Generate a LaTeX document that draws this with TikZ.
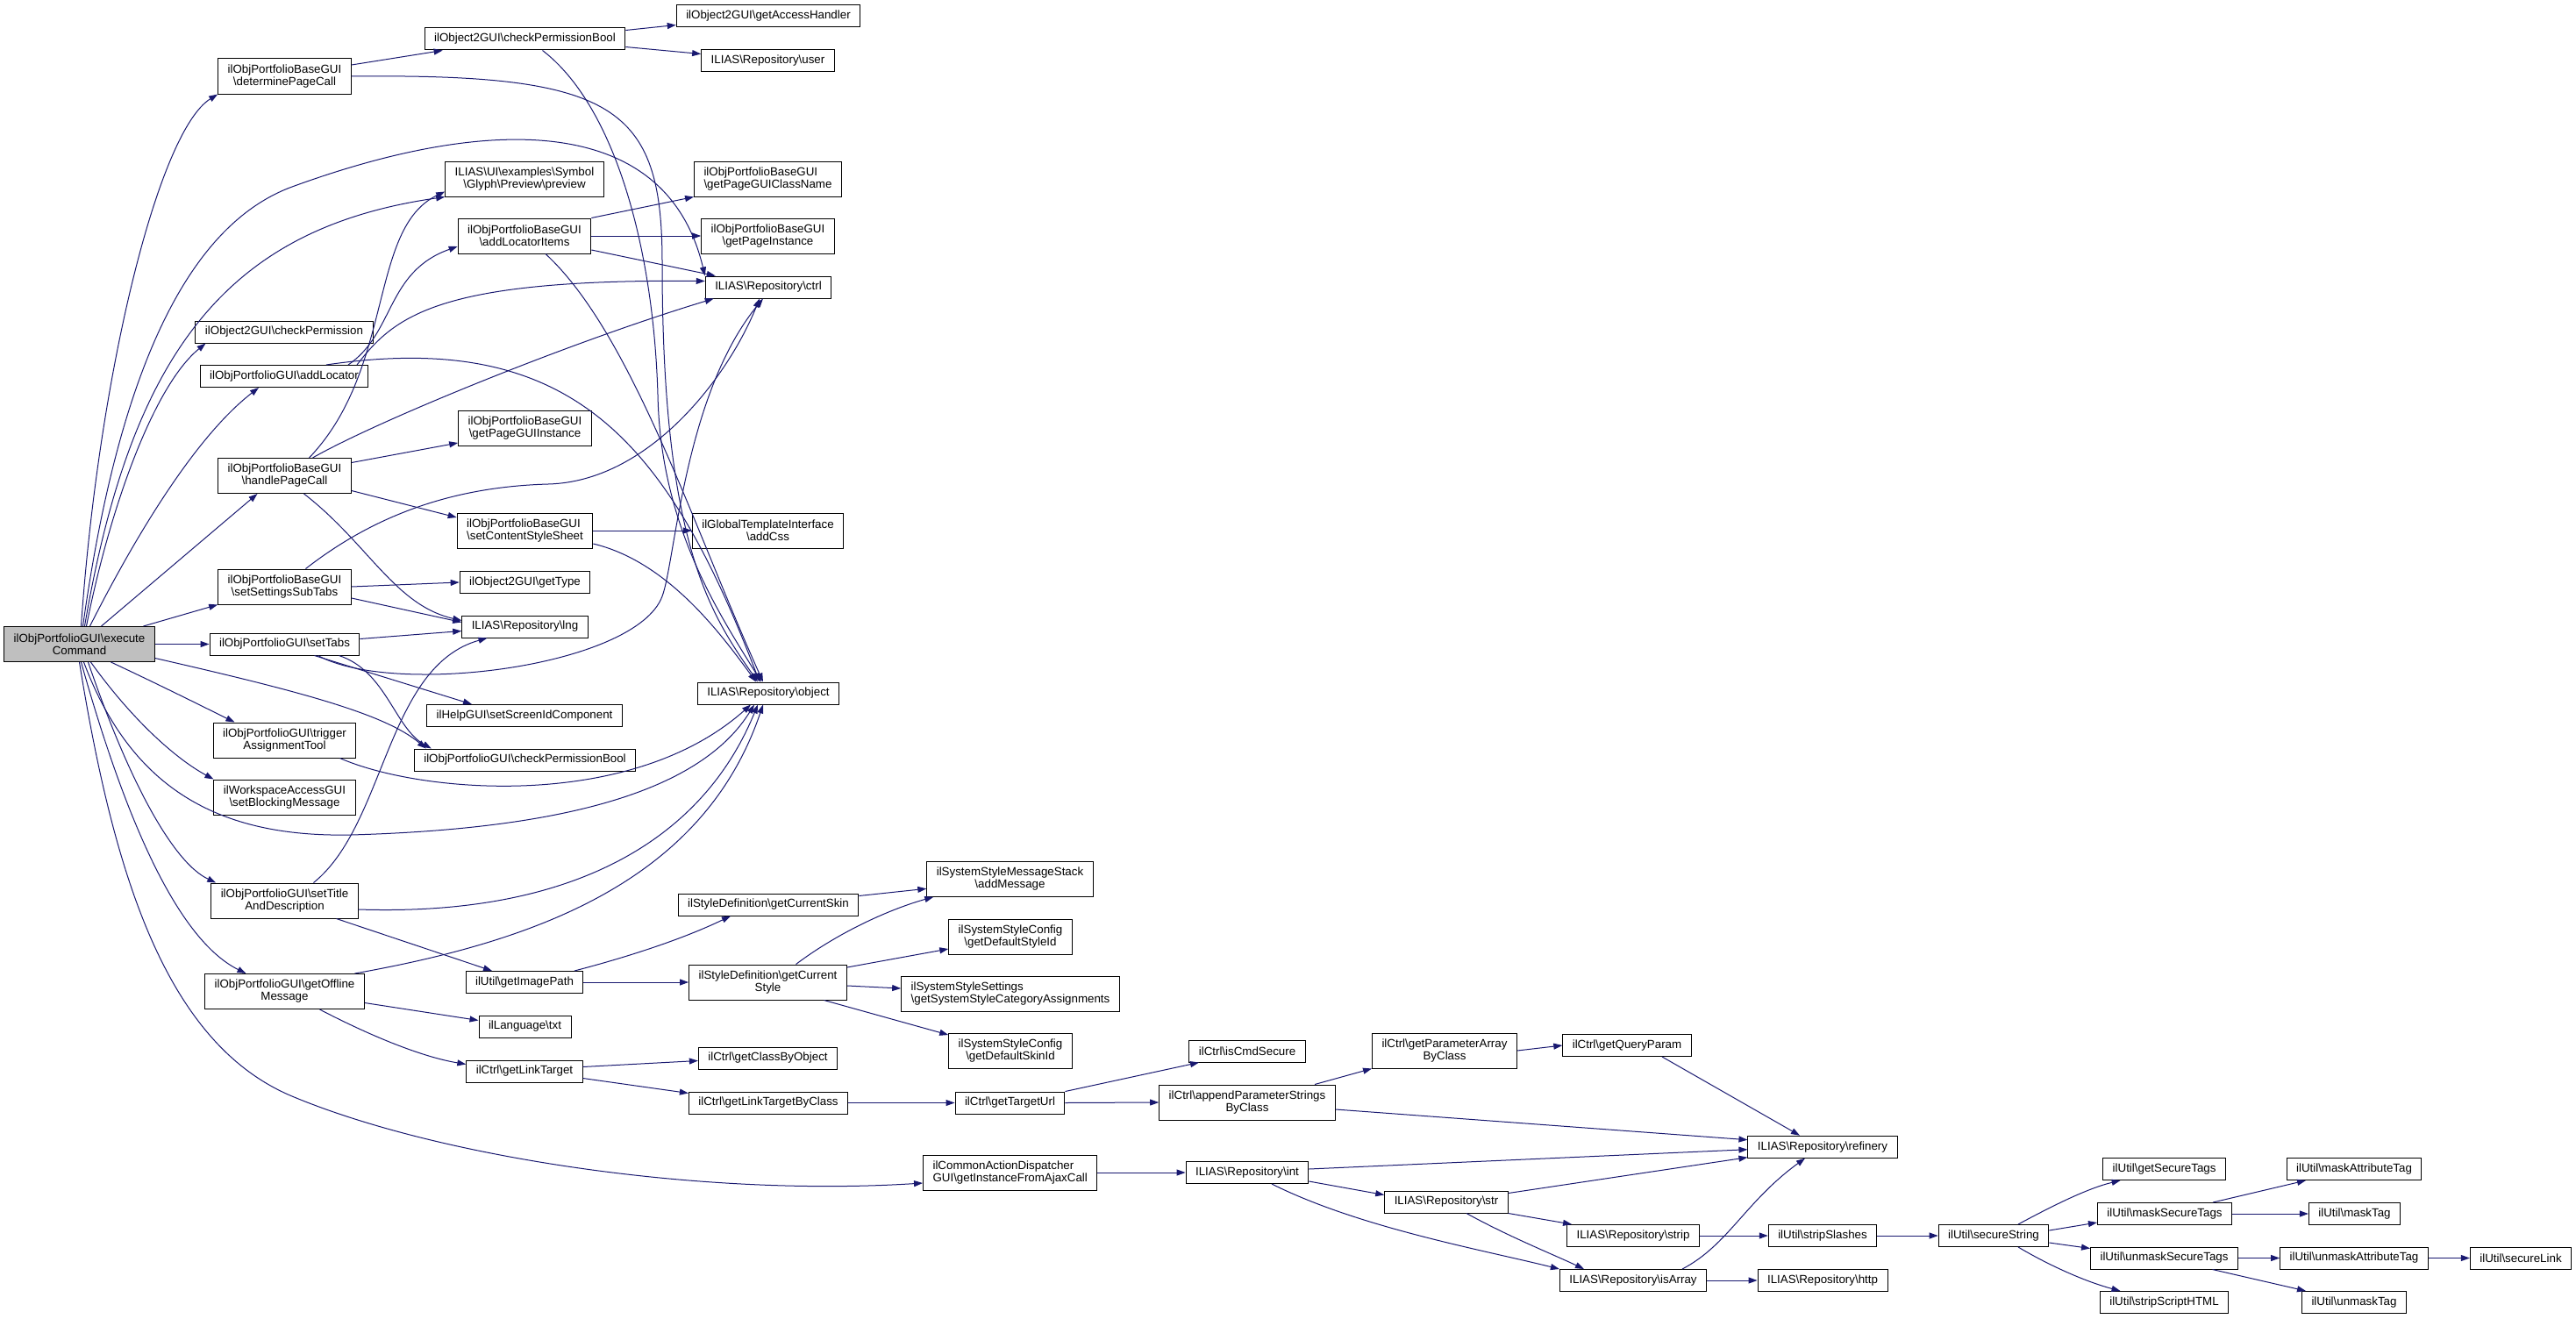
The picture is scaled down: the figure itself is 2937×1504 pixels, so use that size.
\documentclass[tikz,border=0pt]{standalone}
\usepackage{fontspec}
\setmainfont{Liberation Sans}
\usetikzlibrary{arrows.meta}
\tikzset{>={Triangle[length=10pt,width=7pt]}}
\definecolor{edgeblue}{RGB}{25,25,112}
\definecolor{rootgray}{RGB}{191,191,191}
\tikzstyle{fn}=[draw=black,line width=1pt,fill=white,inner xsep=11pt,inner ysep=0pt,minimum height=25pt,font=\fontsize{13.33}{14}\selectfont]
\tikzstyle{fntwo}=[fn,minimum height=40pt,align=center]
\tikzstyle{fnleft}=[fn,minimum height=40pt,align=left]
\tikzstyle{call}=[draw=edgeblue,line width=1pt,->]
\newcommand{\bsl}{\textbackslash{}}

\begin{document}
\begin{tikzpicture}[x=1pt,y=-1pt]
  \useasboundingbox (0,0) rectangle (2937,1504);

  % caller
  \node[fntwo,fill=rootgray] (root) at (90.5,734.5) {ilObjPortfolioGUI\bsl execute\\Command};

  % first level
  \node[fntwo] (detPage) at (324.5,87) {ilObjPortfolioBaseGUI\\\bsl determinePageCall};
  \node[fn] (chkPerm) at (324,378.5) {ilObject2GUI\bsl checkPermission};
  \node[fn] (addLoc) at (324,429) {ilObjPortfolioGUI\bsl addLocator};
  \node[fntwo] (handlePage) at (324.5,542.5) {ilObjPortfolioBaseGUI\\\bsl handlePageCall};
  \node[fntwo] (setSubTabs) at (324.5,669) {ilObjPortfolioBaseGUI\\\bsl setSettingsSubTabs};
  \node[fn] (setTabs) at (324.5,734.5) {ilObjPortfolioGUI\bsl setTabs};
  \node[fntwo] (trigger) at (324.5,844) {ilObjPortfolioGUI\bsl trigger\\AssignmentTool};
  \node[fntwo] (blocking) at (324.5,909) {ilWorkspaceAccessGUI\\\bsl setBlockingMessage};
  \node[fntwo] (setTitle) at (324.5,1027) {ilObjPortfolioGUI\bsl setTitle\\AndDescription};
  \node[fntwo] (offline) at (324.5,1130.5) {ilObjPortfolioGUI\bsl getOffline\\Message};

  % second level
  \node[fn] (o2PermBool) at (598.5,44.5) {ilObject2GUI\bsl checkPermissionBool};
  \node[fntwo] (preview) at (598,204) {ILIAS\bsl UI\bsl examples\bsl Symbol\\\bsl Glyph\bsl Preview\bsl preview};
  \node[fntwo] (locItems) at (598,269) {ilObjPortfolioBaseGUI\\\bsl addLocatorItems};
  \node[fntwo] (pageGUIInst) at (598.5,488) {ilObjPortfolioBaseGUI\\\bsl getPageGUIInstance};
  \node[fnleft] (styleSheet) at (598.5,605) {ilObjPortfolioBaseGUI\\\bsl setContentStyleSheet};
  \node[fn] (getType) at (598.5,664) {ilObject2GUI\bsl getType};
  \node[fn] (lng) at (598.5,714.5) {ILIAS\bsl Repository\bsl lng};
  \node[fn] (screenId) at (598,816) {ilHelpGUI\bsl setScreenIdComponent};
  \node[fn] (pfPermBool) at (598.5,866.5) {ilObjPortfolioGUI\bsl checkPermissionBool};
  \node[fn] (imagePath) at (598,1120) {ilUtil\bsl getImagePath};
  \node[fn] (langTxt) at (598.5,1170.5) {ilLanguage\bsl txt};
  \node[fn] (linkTarget) at (598,1221.5) {ilCtrl\bsl getLinkTarget};

  % third level
  \node[fn] (accessHandler) at (876,18.5) {ilObject2GUI\bsl getAccessHandler};
  \node[fn] (user) at (875.5,69.5) {ILIAS\bsl Repository\bsl user};
  \node[fnleft] (className) at (875.5,204) {ilObjPortfolioBaseGUI\\\bsl getPageGUIClassName};
  \node[fntwo] (pageInst) at (875.5,269) {ilObjPortfolioBaseGUI\\\bsl getPageInstance};
  \node[fn] (ctrl) at (876,327.5) {ILIAS\bsl Repository\bsl ctrl};
  \node[fntwo] (addCss) at (875.5,605) {ilGlobalTemplateInterface\\\bsl addCss};
  \node[fn] (object) at (876,790.5) {ILIAS\bsl Repository\bsl object};
  \node[fn] (curSkin) at (876,1031.5) {ilStyleDefinition\bsl getCurrentSkin};
  \node[fntwo] (curStyle) at (875.5,1120) {ilStyleDefinition\bsl getCurrent\\Style};
  \node[fn] (classByObj) at (875.5,1206.5) {ilCtrl\bsl getClassByObject};
  \node[fn] (linkByClass) at (876,1257.5) {ilCtrl\bsl getLinkTargetByClass};

  % further levels
  \node[fntwo] (addMessage) at (1151.5,1002.3) {ilSystemStyleMessageStack\\\bsl addMessage};
  \node[fntwo] (defStyleId) at (1152,1068) {ilSystemStyleConfig\\\bsl getDefaultStyleId};
  \node[fnleft] (catAssign) at (1152,1133) {ilSystemStyleSettings\\\bsl getSystemStyleCategoryAssignments};
  \node[fntwo] (defSkinId) at (1152,1198.5) {ilSystemStyleConfig\\\bsl getDefaultSkinId};
  \node[fn] (targetUrl) at (1151.5,1257.5) {ilCtrl\bsl getTargetUrl};
  \node[fnleft] (dispatcher) at (1151.7,1337) {ilCommonActionDispatcher\\GUI\bsl getInstanceFromAjaxCall};
  \node[fn] (cmdSecure) at (1422,1198.5) {ilCtrl\bsl isCmdSecure};
  \node[fntwo] (appendParams) at (1422,1257) {ilCtrl\bsl appendParameterStrings\\ByClass};
  \node[fn] (repInt) at (1422,1337) {ILIAS\bsl Repository\bsl int};
  \node[fntwo] (paramArray) at (1647,1198) {ilCtrl\bsl getParameterArray\\ByClass};
  \node[fn] (repStr) at (1649,1370.5) {ILIAS\bsl Repository\bsl str};
  \node[fn] (queryParam) at (1855,1192) {ilCtrl\bsl getQueryParam};
  \node[fn] (repStrip) at (1862,1409) {ILIAS\bsl Repository\bsl strip};
  \node[fn] (isArray) at (1862,1460) {ILIAS\bsl Repository\bsl isArray};
  \node[fn] (refinery) at (2078,1307.7) {ILIAS\bsl Repository\bsl refinery};
  \node[fn] (stripSlashes) at (2078,1409) {ilUtil\bsl stripSlashes};
  \node[fn] (http) at (2078,1460) {ILIAS\bsl Repository\bsl http};
  \node[fn] (secureString) at (2273,1409) {ilUtil\bsl secureString};
  \node[fn] (getSecureTags) at (2467.6,1333) {ilUtil\bsl getSecureTags};
  \node[fn] (maskSecure) at (2468,1384) {ilUtil\bsl maskSecureTags};
  \node[fn] (unmaskSecure) at (2467.5,1434.5) {ilUtil\bsl unmaskSecureTags};
  \node[fn] (stripScript) at (2467.5,1485) {ilUtil\bsl stripScriptHTML};
  \node[fn] (maskAttr) at (2684,1333) {ilUtil\bsl maskAttributeTag};
  \node[fn] (maskTag) at (2684.5,1384) {ilUtil\bsl maskTag};
  \node[fn] (unmaskAttr) at (2684,1434.5) {ilUtil\bsl unmaskAttributeTag};
  \node[fn] (unmaskTag) at (2684,1485) {ilUtil\bsl unmaskTag};
  \node[fn] (secureLink) at (2874,1434.5) {ilUtil\bsl secureLink};

  % calls of executeCommand
  \draw[call] ([xshift=2]root.north) .. controls (112,430) and (180,150) .. (detPage.south west);
  \draw[call] ([xshift=4]root.north) .. controls (130,460) and (200,262) .. (333,213) .. controls (560,130) and (760,130) .. (ctrl.north west);
  \draw[call] ([xshift=6]root.north) .. controls (150,400) and (260,260) .. (preview.south west);
  \draw[call] ([xshift=8]root.north) .. controls (125,580) and (175,440) .. ([xshift=12]chkPerm.south west);
  \draw[call] ([xshift=12]root.north) .. controls (150,620) and (220,500) .. ([xshift=-29]addLoc.south);
  \draw[call] ([xshift=25]root.north) -- ([xshift=-31]handlePage.south);
  \draw[call] ([xshift=73]root.north) -- (setSubTabs.south west);
  \draw[call] (root.east) -- (setTabs.west);
  \draw[call] ([yshift=-16]root.east) .. controls (350,790) and (440,815) .. ([xshift=14]pfPermBool.north west);
  \draw[call] ([xshift=36]root.south) .. controls (180,780) and (230,805) .. ([xshift=-57]trigger.north);
  \draw[call] ([xshift=13]root.south) .. controls (150,820) and (200,865) .. (blocking.north west);
  \draw[call] ([xshift=5]root.south) .. controls (150,900) and (250,955) .. (400,952) .. controls (650,945) and (800,900) .. ([xshift=-16]object.south);
  \draw[call] ([xshift=10]root.south) .. controls (150,900) and (200,985) .. ([xshift=6]setTitle.north west);
  \draw[call] ([xshift=2]root.south) .. controls (150,960) and (210,1075) .. ([xshift=-44]offline.north);
  \draw[call] (root.south) .. controls (130,1000) and (190,1190) .. (333,1250) .. controls (500,1320) and (800,1365) .. ([yshift=-12]dispatcher.west);

  % second level calls
  \draw[call] ([yshift=13]detPage.east) -- ([xshift=21]o2PermBool.south west);
  \draw[call] (detPage.east) .. controls (700,84) and (755,120) .. (755,300) .. controls (755,620) and (810,700) .. ([xshift=-12]object.north);
  \draw[call] ([yshift=10]o2PermBool.east) -- ([yshift=-10]accessHandler.west);
  \draw[call] ([yshift=-9]o2PermBool.east) -- ([yshift=8]user.west);
  \draw[call] ([xshift=20]o2PermBool.south) .. controls (700,120) and (745,280) .. (750,450) .. controls (753,600) and (820,700) .. ([xshift=-8]object.north);
  \draw[call] ([xshift=73]addLoc.north) .. controls (450,380) and (440,310) .. ([yshift=-12]locItems.west);
  \draw[call] ([xshift=83]addLoc.north) .. controls (450,360) and (500,318) .. ([yshift=7]ctrl.west);
  \draw[call] ([xshift=48]addLoc.north) .. controls (650,375) and (760,500) .. ([xshift=-10]object.north);
  \draw[call] (locItems.north east) -- (className.south west);
  \draw[call] (locItems.east) -- (pageInst.west);
  \draw[call] ([yshift=-16]locItems.east) -- ([xshift=12]ctrl.north west);
  \draw[call] ([xshift=24]locItems.south) .. controls (720,380) and (790,600) .. ([xshift=-6]object.north);
  \draw[call] ([xshift=28]handlePage.north) .. controls (450,420) and (420,260) .. ([yshift=6]preview.south west);
  \draw[call] ([xshift=32]handlePage.north) .. controls (430,480) and (650,390) .. ([xshift=10]ctrl.south west);
  \draw[call] ([yshift=15]handlePage.east) -- ([yshift=-17]pageGUIInst.west);
  \draw[call] ([yshift=-17]handlePage.east) -- ([yshift=15]styleSheet.west);
  \draw[call] ([xshift=22]handlePage.south) .. controls (420,620) and (450,690) .. ([yshift=7]lng.west);
  \draw[call] (setSubTabs.east) -- (getType.west);
  \draw[call] ([yshift=-13]setSubTabs.east) -- ([yshift=5]lng.west);
  \draw[call] ([xshift=24]setSubTabs.north) .. controls (430,585) and (520,555) .. (625,552) .. controls (740,549) and (830,430) .. ([xshift=-10]ctrl.south);
  \draw[call] ([yshift=6]setTabs.east) -- ([yshift=-5]lng.west);
  \draw[call] ([xshift=34]setTabs.south) -- ([xshift=-60]screenId.north);
  \draw[call] ([xshift=38]setTabs.south) .. controls (450,795) and (725,760) .. (755,680) .. controls (770,640) and (780,450) .. ([xshift=-6]ctrl.south);
  \draw[call] ([xshift=62]setTabs.south) .. controls (440,765) and (450,830) .. ([xshift=20]pfPermBool.north west);
  \draw[call] (styleSheet.east) -- (addCss.west);
  \draw[call] ([yshift=-15]styleSheet.east) .. controls (760,640) and (820,720) .. ([xshift=-14]object.north);
  \draw[call] ([xshift=63]trigger.south) .. controls (480,905) and (720,925) .. ([xshift=-20]object.south);
  \draw[call] ([yshift=-10]setTitle.east) .. controls (650,1045) and (800,960) .. ([xshift=-12]object.south);
  \draw[call] ([xshift=33]setTitle.north) .. controls (440,940) and (440,760) .. ([xshift=-43]lng.south);
  \draw[call] ([xshift=59]setTitle.south) -- ([xshift=-37]imagePath.north);
  \draw[call] ([xshift=80]offline.north) .. controls (600,1075) and (800,1010) .. ([xshift=-6]object.south);
  \draw[call] ([yshift=-13]offline.east) -- ([yshift=7]langTxt.west);
  \draw[call] ([xshift=40]offline.south) .. controls (420,1180) and (480,1205) .. ([yshift=8]linkTarget.west);

  % style definition
  \draw[call] ([xshift=57]imagePath.north) .. controls (720,1090) and (780,1070) .. ([xshift=-43]curSkin.south);
  \draw[call] (imagePath.east) -- (curStyle.west);
  \draw[call] ([yshift=10]curSkin.east) -- ([yshift=-11]addMessage.west);
  \draw[call] ([xshift=32]curStyle.north) .. controls (960,1060) and (1020,1035) .. ([xshift=8]addMessage.south west);
  \draw[call] ([yshift=17]curStyle.east) -- ([yshift=-14]defStyleId.west);
  \draw[call] ([yshift=-4]curStyle.east) -- ([yshift=6]catAssign.west);
  \draw[call] ([xshift=64]curStyle.south) -- ([yshift=-2]defSkinId.north west);

  % ctrl
  \draw[call] ([yshift=5]linkTarget.east) -- ([yshift=-3]classByObj.west);
  \draw[call] ([yshift=-8]linkTarget.east) -- ([yshift=11]linkByClass.west);
  \draw[call] (linkByClass.east) -- (targetUrl.west);
  \draw[call] (targetUrl.north east) -- ([xshift=-55]cmdSecure.south);
  \draw[call] (targetUrl.east) -- (appendParams.west);
  \draw[call] ([xshift=77]appendParams.north) -- (paramArray.south west);
  \draw[call] ([yshift=-8]appendParams.east) -- ([yshift=8]refinery.west);
  \draw[call] (paramArray.east) -- (queryParam.west);
  \draw[call] ([xshift=40]queryParam.south) -- ([xshift=-26]refinery.north);

  % repository
  \draw[call] (dispatcher.east) -- (repInt.west);
  \draw[call] ([yshift=4]repInt.east) -- ([yshift=-3]refinery.west);
  \draw[call] ([yshift=-10]repInt.east) -- ([yshift=8]repStr.west);
  \draw[call] ([xshift=28]repInt.south) .. controls (1550,1400) and (1690,1425) .. (isArray.north west);
  \draw[call] ([yshift=10]repStr.east) -- ([yshift=-12]refinery.west);
  \draw[call] (repStr.south east) -- ([xshift=6]repStrip.north west);
  \draw[call] ([xshift=23]repStr.south) .. controls (1720,1410) and (1770,1430) .. ([xshift=-56]isArray.north);
  \draw[call] (repStrip.east) -- (stripSlashes.west);
  \draw[call] ([xshift=56]isArray.north) .. controls (1970,1420) and (1990,1370) .. ([xshift=-20]refinery.south);
  \draw[call] (isArray.east) -- (http.west);
  \draw[call] (stripSlashes.east) -- (secureString.west);

  % secure string
  \draw[call] ([xshift=28]secureString.north) .. controls (2340,1375) and (2380,1355) .. ([xshift=-50]getSecureTags.south);
  \draw[call] ([yshift=6]secureString.east) -- ([yshift=-10]maskSecure.west);
  \draw[call] ([yshift=-8]secureString.east) -- ([yshift=11]unmaskSecure.west);
  \draw[call] ([xshift=28]secureString.south) .. controls (2340,1445) and (2380,1462) .. ([xshift=-50]stripScript.north);
  \draw[call] ([xshift=55]maskSecure.north) -- ([xshift=-55]maskAttr.south);
  \draw[call] (maskSecure.east) -- (maskTag.west);
  \draw[call] (unmaskSecure.east) -- (unmaskAttr.west);
  \draw[call] ([xshift=55]unmaskSecure.south) -- ([xshift=-55]unmaskTag.north);
  \draw[call] (unmaskAttr.east) -- (secureLink.west);
\end{tikzpicture}
\end{document}
